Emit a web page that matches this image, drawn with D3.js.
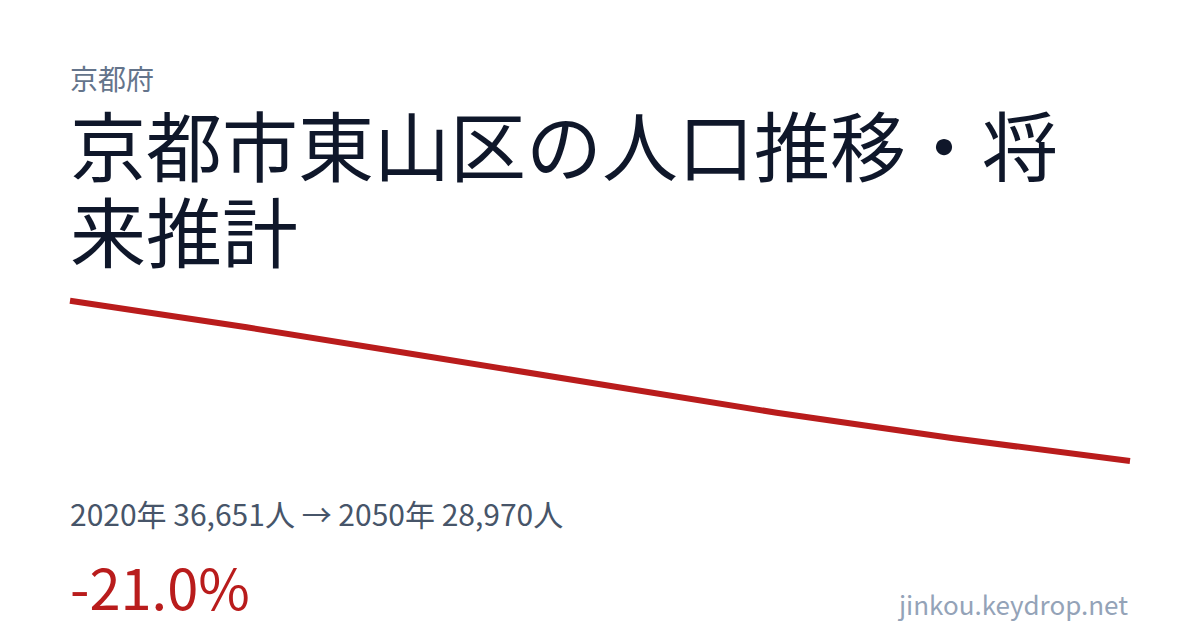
<!DOCTYPE html>
<html lang="ja">
<head>
<meta charset="utf-8">
<script src="https://cdn.jsdelivr.net/npm/d3@7"></script>
<style>
  html, body { margin: 0; padding: 0; background: #fff; }
  svg { display: block; font-family: "Noto Sans CJK JP", "Noto Sans", sans-serif; }
</style>
</head>
<body>
<svg id="chart" width="1200" height="630"></svg>
<script>
// data
var years = [2020, 2025, 2030, 2035, 2040, 2045, 2050];
var population = [36651, 35376, 34016, 32645, 31284, 30058, 28970];
var prefName = "京都府";
var titleText = "京都市東山区の人口推移・将来推計";
var siteName = "jinkou.keydrop.net";

var svg = d3.select("#chart");
var W = 1200, left = 70, right = 1130;

svg.append("rect").attr("width", W).attr("height", 630).attr("fill", "#fff");

// prefecture label
svg.append("text")
  .attr("x", left).attr("y", 90)
  .attr("font-size", 28)
  .attr("fill", "#64748b")
  .text(prefName);

// title, wrapped by hand to the width
var title = svg.append("text")
  .attr("x", left).attr("y", 176)
  .attr("font-size", 76)
  .attr("fill", "#0f172a");

var lines = [], cur = "";
var probe = svg.append("text").attr("font-size", 76).attr("visibility", "hidden");
for (var i = 0; i < titleText.length; i++) {
  var next = cur + titleText[i];
  probe.text(next);
  if (probe.node().getComputedTextLength() > right - left && cur != "") {
    lines.push(cur);
    cur = titleText[i];
  } else {
    cur = next;
  }
}
lines.push(cur);
probe.remove();

lines.forEach(function(l, k) {
  title.append("tspan").attr("x", left).attr("dy", k == 0 ? 0 : 86).text(l);
});

// line
var x = d3.scaleLinear().domain([years[0], years[years.length - 1]]).range([left, right]);
var y = d3.scaleLinear().domain([d3.min(population), d3.max(population)]).range([461, 300.7]);

var line = d3.line()
  .x(function(d, i) { return x(years[i]); })
  .y(function(d) { return y(d); });

svg.append("path")
  .datum(population)
  .attr("d", line)
  .attr("fill", "none")
  .attr("stroke", "#b91c1c")
  .attr("stroke-width", 6)
  .attr("stroke-linejoin", "round");

// summary
var fmt = d3.format(",");
var first = population[0], last = population[population.length - 1];
svg.append("text")
  .attr("x", left).attr("y", 526)
  .attr("font-size", 30)
  .attr("fill", "#475569")
  .text(years[0] + "年 " + fmt(first) + "人 → " + years[years.length - 1] + "年 " + fmt(last) + "人");

var change = (last - first) / first * 100;
svg.append("text")
  .attr("x", left).attr("y", 610)
  .attr("font-size", 56)
  .attr("fill", "#b91c1c")
  .text((change > 0 ? "+" : "") + change.toFixed(1) + "%");

svg.append("text")
  .attr("x", 1128).attr("y", 615)
  .attr("text-anchor", "end")
  .attr("font-size", 26)
  .attr("fill", "#94a3b8")
  .text(siteName);
</script>
</body>
</html>
